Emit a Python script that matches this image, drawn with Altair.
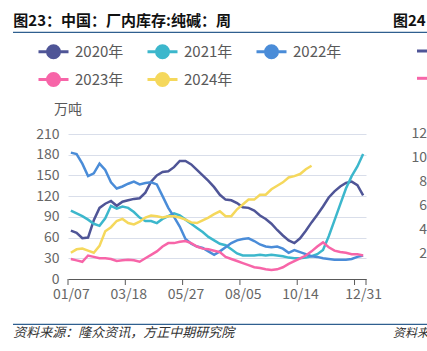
import altair as alt
import pandas as pd

FONT = "Noto Sans CJK SC"

# ---------------- data ----------------
weeks = list(range(52))
tick_idx = [0, 10, 20, 30, 40, 51]
tick_labels = ["01/07", "03/18", "05/27", "08/05", "10/14", "12/31"]
tick_marks = [-0.5, 9.5, 19.5, 29.5, 39.5, 49.5, 51.5]
y_ticks = [0, 30, 60, 90, 120, 150, 180, 210]

series_names = ["2020年", "2021年", "2022年", "2023年", "2024年"]
series_colors = ["#4F5597", "#3CB7CC", "#4A8CD8", "#F765A8", "#F5D85C"]

s2020 = [70, 67, 59, 60, 85, 103, 109, 113, 106, 112,
         114, 116, 117, 125, 141, 150, 155, 156, 162, 171,
         171, 166, 158, 150, 142, 133, 122, 115, 114, 110,
         104, 103, 99, 92, 87, 80, 71, 63, 56, 52,
         59, 70, 82, 93, 105, 118, 127, 134, 139, 141,
         136, 121]
s2021 = [99, 95, 91, 86, 80, 77, 88, 106, 102, 105,
         103, 97, 89, 84, 84, 81, 87, 91, 95, 92,
         86, 80, 74, 68, 61, 56, 51, 49, 43, 37,
         34, 34, 34, 35, 34, 35, 34, 33, 31, 30,
         30, 31, 33, 36, 42, 62, 85, 108, 131, 149,
         163, 181]
s2022 = [183, 181, 167, 149, 153, 167, 158, 140, 131, 134,
         138, 141, 137, 139, 140, 137, 120, 103, 90, 76,
         58, 51, 47, 45, 40, 35, 40, 46, 52, 56,
         58, 59, 55, 50, 47, 46, 47, 44, 38, 42,
         39, 36, 33, 32, 30, 29, 28, 28, 28, 29,
         32, 34]
s2023 = [29, 27, 25, 34, 32, 30, 30, 29, 26, 27,
         28, 27, 25, 30, 35, 40, 47, 52, 52, 54,
         55, 52, 47, 44, 43, 41, 39, 32, 29, 26,
         23, 20, 17, 16, 14, 13, 14, 17, 22, 26,
         30, 34, 40, 47, 53, 46, 41, 39, 38, 36,
         36, 34]
s2024 = [38, 43, 44, 41, 38, 48, 69, 75, 84, 87,
         81, 79, 83, 89, 92, 91, 89, 91, 91, 89,
         86, 82, 81, 85, 89, 94, 98, 91, 91, 101,
         108, 115, 115, 122, 122, 130, 135, 140, 147, 149,
         152, 159, 164]

all_series = [s2020, s2021, s2022, s2023, s2024]
rows = []
for name, vals in zip(series_names, all_series):
    for w, v in zip(weeks, vals):
        rows.append({"week": w, "value": v, "series": name})
df = pd.DataFrame(rows)

# ---------------- layout ----------------
W, H = 298, 145
PAD = {"left": 68, "top": 134, "right": 61, "bottom": 72}
AX = "#595959"
GRID = "#D9DEEA"
LINE_BLUE = "#2F5F8F"

label_expr = "".join(f"datum.value == {i} ? '{l}' : " for i, l in zip(tick_idx, tick_labels)) + "''"

x_scale = alt.Scale(domain=[-0.5, 51.5], nice=False, zero=False)
y_scale = alt.Scale(domain=[0, 210], nice=False, zero=True)

sym_path = "M-1.875,0L1.875,0M0.75,0A0.75,0.75,0,1,1,-0.75,0A0.75,0.75,0,1,1,0.75,0Z"

lines = alt.Chart(df).mark_line(strokeWidth=2.5).encode(
    x=alt.X("week:Q", scale=x_scale,
            axis=alt.Axis(values=tick_idx, labelExpr=label_expr, title=None, grid=False,
                          ticks=False, tickSize=0, domain=True, domainColor=AX, domainWidth=1,
                          labelFont=FONT, labelFontSize=14, labelColor="#666666",
                          labelPadding=8, labelFlush=False, labelOverlap=False, zindex=1)),
    y=alt.Y("value:Q", scale=y_scale,
            axis=alt.Axis(values=y_ticks, title="万吨", titleAngle=0, titleX=-0.5, titleY=-25,
                          titleAlign="center", titleBaseline="middle", titleFont=FONT,
                          titleFontSize=14, titleColor=AX, titleFontWeight="normal",
                          grid=True, gridColor=GRID, gridWidth=1, domain=False, ticks=False,
                          labelFont=FONT, labelFontSize=14, labelColor="#666666", labelPadding=9)),
    color=alt.Color("series:N", scale=alt.Scale(domain=series_names, range=series_colors),
                    legend=alt.Legend(title=None, orient="none", legendX=-24, legendY=-92,
                                      direction="horizontal",
                                      columns=3, symbolType=sym_path, symbolSize=256,
                                      symbolStrokeWidth=3,
                                      symbolFillColor=alt.ExprRef(expr="scale('color', datum.value)"),
                                      labelFont=FONT, labelFontSize=15, labelColor=AX,
                                      labelOffset=12, columnPadding=17, rowPadding=3,
                                      padding=0, symbolOffset=0)),
)

ticks = alt.Chart(pd.DataFrame({"t": tick_marks})).mark_rule(color=AX, strokeWidth=1).encode(
    x=alt.X("t:Q", scale=x_scale), y=alt.value(H), y2=alt.value(H + 6)
)

one = pd.DataFrame({"k": [0]})


def txt(text, x, y, align="left", size=14, color=AX, **kw):
    return alt.Chart(one).mark_text(text=text, align=align, baseline="middle", font=FONT,
                                    fontSize=size, color=color, **kw).encode(
        x=alt.value(x), y=alt.value(y))


def hline(x1, x2, y, color, width):
    return alt.Chart(one).mark_rule(color=color, strokeWidth=width).encode(
        x=alt.value(x1), x2=alt.value(x2), y=alt.value(y))


L, T = PAD["left"], PAD["top"]
annos = [
    txt("图23：中国：厂内库存:纯碱：周", 13.3 - L, 21.2 - T, size=15, color="#111111", fontWeight="bold"),
    txt("图24", 393 - L, 21.2 - T, size=15, color="#111111", fontWeight="bold"),
    hline(13 - L, 427 - L, 32.3 - T, LINE_BLUE, 1.2),
    hline(13 - L, 427 - L, 324.3 - T, LINE_BLUE, 1.2),
    txt("资料来源：隆众资讯，方正中期研究院", 13.3 - L, 333.3 - T, size=13, color="#333333", fontStyle="italic"),
    txt("资料来", 393 - L, 333.3 - T, size=12, color="#333333", fontStyle="italic"),
    hline(417 - L, 430 - L, 51 - T, series_colors[0], 3),
    hline(417 - L, 430 - L, 78.3 - T, series_colors[3], 3),
]
right_labels = ["12", "10", "8", "6", "4", "2"]
right_label_y = [133.5, 157.5, 181.5, 205.5, 229.5, 253.5]
for lab, yy in zip(right_labels, right_label_y):
    annos.append(txt(lab, 427 - L, yy - T, align="right", size=14, color="#666666"))

chart = alt.layer(lines, ticks, *annos).properties(
    width=W, height=H, padding=PAD, autosize=alt.AutoSizeParams(type="none"), background="white"
).configure_view(strokeWidth=0)

chart.save("out.html", embed_options={"renderer": "svg", "actions": False})
